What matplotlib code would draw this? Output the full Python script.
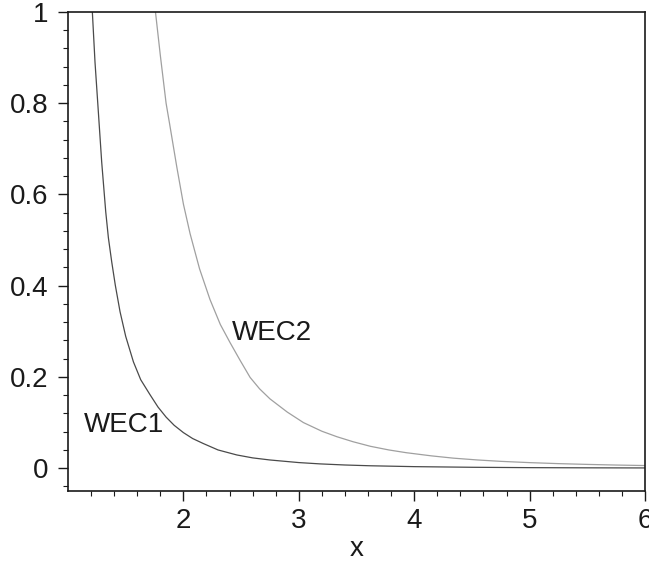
import matplotlib
matplotlib.use("Agg")
import matplotlib.pyplot as plt

plt.rcParams['font.family'] = ['Liberation Sans', 'DejaVu Sans']

# WEC1 curve
wec1_x = [1.211, 1.234, 1.263, 1.292, 1.327, 1.35, 1.379, 1.41, 1.451, 1.50,
          1.567, 1.63, 1.711, 1.78, 1.85, 1.92, 2.0, 2.08, 2.173, 2.3, 2.463,
          2.6, 2.75, 3.0, 3.186, 3.4, 3.62, 4.0, 4.5, 5.0, 5.5, 6.0]
wec1_y = [1.0, 0.89, 0.781, 0.671, 0.562, 0.505, 0.452, 0.401, 0.343, 0.289,
          0.233, 0.194, 0.161, 0.134, 0.112, 0.094, 0.078, 0.065, 0.054, 0.040,
          0.029, 0.0226, 0.018, 0.0123, 0.0094, 0.0070, 0.0053, 0.0034, 0.0020,
          0.0012, 0.0008, 0.00055]

# WEC2 curve
wec2_x = [1.758, 1.80, 1.85, 1.879, 1.943, 2.0, 2.058, 2.14, 2.23, 2.32, 2.405,
          2.49, 2.578, 2.66, 2.75, 2.9, 3.04, 3.2, 3.33, 3.47, 3.62, 3.78, 3.93,
          4.15, 4.34, 4.55, 4.75, 5.0, 5.25, 5.5, 5.75, 6.0]
wec2_y = [1.0, 0.905, 0.80, 0.757, 0.66, 0.579, 0.514, 0.437, 0.37, 0.315,
          0.275, 0.237, 0.199, 0.174, 0.152, 0.123, 0.100, 0.081, 0.069, 0.058,
          0.048, 0.040, 0.034, 0.027, 0.022, 0.018, 0.0150, 0.0122, 0.0100,
          0.0083, 0.0069, 0.0058]

labels = ["WEC1", "WEC2"]
label_pos_x = [1.486, 2.767]
label_pos_y = [0.095, 0.297]

xticks = [2, 3, 4, 5, 6]
xtick_labels = ['2', '3', '4', '5', '6']
yticks = [0, 0.2, 0.4, 0.6, 0.8, 1.0]
ytick_labels = ['0', '0.2', '0.4', '0.6', '0.8', '1']
xminor = [1.2, 1.4, 1.6, 1.8, 2.2, 2.4, 2.6, 2.8, 3.2, 3.4, 3.6, 3.8,
          4.2, 4.4, 4.6, 4.8, 5.2, 5.4, 5.6, 5.8]
yminor = [-0.04, 0.04, 0.08, 0.12, 0.16, 0.24, 0.28, 0.32, 0.36, 0.44, 0.48,
          0.52, 0.56, 0.64, 0.68, 0.72, 0.76, 0.84, 0.88, 0.92, 0.96]

fig = plt.figure(figsize=(6.49, 5.66), dpi=100)
ax = fig.add_axes([68/649, 1-491/566, (645-68)/649, (491-12)/566])

ax.plot(wec1_x, wec1_y, color='#4a4a4a', lw=0.9)
ax.plot(wec2_x, wec2_y, color='#a0a0a0', lw=0.9)

for t, lx, ly in zip(labels, label_pos_x, label_pos_y):
    ax.text(lx, ly, t, fontsize=20, ha='center', va='center', color='#1a1a1a')

ax.set_xlim(1.0, 6.0)
ax.set_ylim(-0.05, 1.0)
ax.set_xticks(xticks)
ax.set_xticklabels(xtick_labels)
ax.set_yticks(yticks)
ax.set_yticklabels(ytick_labels)
ax.set_xticks(xminor, minor=True)
ax.set_yticks(yminor, minor=True)

ax.tick_params(which='major', direction='out', length=7, width=1.0,
               labelsize=20, colors='#1a1a1a')
ax.tick_params(axis='y', which='major', pad=7)
ax.tick_params(axis='x', which='major', pad=5)
ax.tick_params(which='minor', direction='out', length=3.6, width=0.8,
               colors='#1a1a1a')
ax.tick_params(top=False, right=False, which='both')
for s in ax.spines.values():
    s.set_linewidth(1.2)
    s.set_color('#1a1a1a')

ax.set_xlabel('x', fontsize=20, color='#1a1a1a', labelpad=2)

fig.savefig('out.png', dpi=100)
